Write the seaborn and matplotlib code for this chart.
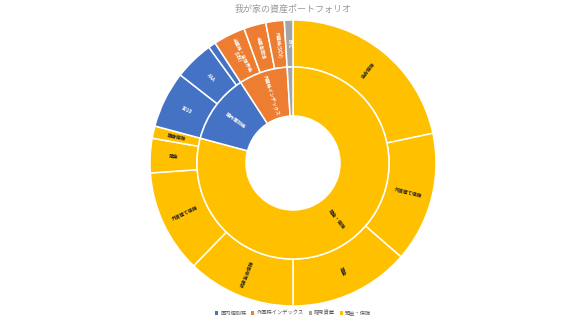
import numpy as np
import pandas as pd
import matplotlib
matplotlib.use("Agg")
import matplotlib.pyplot as plt
import seaborn as sns
from matplotlib.patches import Patch

# --- data (proportional units) ---
groups = ["預金・保険", "国内個別株", "外国株インデックス", "暗号資産"]
group_colors = ["#FFC000", "#4472C4", "#ED7D31", "#A5A5A5"]
group_text = ["#222222", "white", "white", "white"]

item_labels = ["生命保険", "外貨建て保険", "預金", "終身生命保険", "外貨建て保険", "預金", "医療保険",
               "1010", "AAA", "",
               "米国株・全世界株\n(SBI)", "米国高配当", "外国株(SCV)",
               "BTC"]
item_group = ["預金・保険"] * 7 + ["国内個別株"] * 3 + ["外国株インデックス"] * 3 + ["暗号資産"]
item_values = [78, 53, 49, 44, 42, 14, 5,
               23, 16, 3,
               13, 9, 7.5,
               3.5]

legend_order = ["国内個別株", "外国株インデックス", "暗号資産", "預金・保険"]

df = pd.DataFrame({"label": item_labels, "group": item_group, "value": item_values})
inner = df.groupby("group", sort=False)["value"].sum().reindex(groups)

sns.set_theme(style="white")
plt.rcParams["font.family"] = ["Noto Sans CJK JP", "DejaVu Sans"]

fig = plt.figure(figsize=(5.86, 3.25), dpi=100)
ax = fig.add_axes([0, 0, 1, 1])

R_OUT, R_MID, R_HOLE = 143, 96, 47
cmap = dict(zip(groups, group_colors))
tmap = dict(zip(groups, group_text))

wp = dict(edgecolor="white", linewidth=1.1)
ax.pie(df["value"], radius=R_OUT, startangle=90, counterclock=False,
       colors=[cmap[g] for g in df["group"]],
       wedgeprops=dict(width=R_OUT - R_MID, **wp))
ax.pie(inner.values, radius=R_MID, startangle=90, counterclock=False,
       colors=group_colors, wedgeprops=dict(width=R_MID - R_HOLE, **wp))


def put_labels(values, labels, colors, r):
    total = sum(item_values)
    start = 0.0
    for v, lab, c in zip(values, labels, colors):
        mid = (start + v / 2) / total * 360.0  # clockwise from north
        start += v
        if not lab:
            continue
        phi = np.deg2rad(90 - mid)
        rot = 90 - mid
        while rot > 90:
            rot -= 180
        while rot <= -90:
            rot += 180
        ax.text(r * np.cos(phi), r * np.sin(phi), lab, rotation=rot,
                rotation_mode="anchor", ha="center", va="center",
                fontsize=3.4, color=c, fontweight="bold", linespacing=1.0)


put_labels(df["value"], df["label"], [tmap[g] for g in df["group"]], (R_OUT + R_MID) / 2)
put_labels(inner.values, [g if g != "暗号資産" else "" for g in groups],
           group_text, (R_MID + R_HOLE) / 2)

ax.set_xlim(-293, 293)
ax.set_ylim(-162, 163)
ax.set_aspect("equal")
ax.axis("off")

fig.text(0.5, 1 - 9 / 325, "我が家の資産ポートフォリオ", ha="center", va="center",
         fontsize=6.5, color="#999999")

handles = [Patch(facecolor=cmap[g], edgecolor="none") for g in legend_order]
fig.legend(handles, legend_order, loc="center", bbox_to_anchor=(0.5, 1 - 313 / 325),
           ncol=4, frameon=False, fontsize=3.8, handlelength=0.6, handleheight=0.6,
           handletextpad=0.4, columnspacing=0.9, labelcolor="#595959")

fig.savefig("out.png", dpi=100)
